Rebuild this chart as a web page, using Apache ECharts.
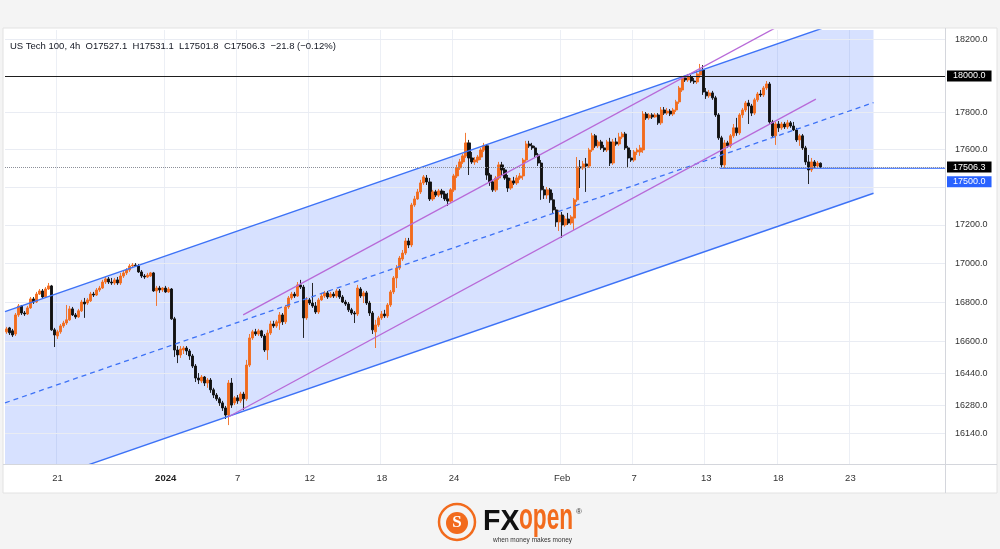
<!DOCTYPE html>
<html><head><meta charset="utf-8">
<script src="https://cdn.jsdelivr.net/npm/echarts@6/dist/echarts.min.js"></script>
<style>html,body{margin:0;padding:0;background:#f4f4f4;}#c{width:1000px;height:549px;}</style>
</head><body><div id="c"></div>
<script>
// ---------- DATA ----------
const symbolName = 'US Tech 100, 4h';
const legendOHLC = [['O', 17527.1], ['H', 17531.1], ['L', 17501.8], ['C', 17506.3]];
const legendChange = [-21.8, -0.12];
const lastPrice = 17506.3;
const keyLevel = 18000;
const supportLevel = 17500;

// candles: [open, close, low, high]
const candles = [
[16648,16663,16638,16673],[16668,16643,16632,16673],[16653,16632,16622,16663],[16637,16734,16627,16744],[16734,16780,16724,16790],
[16780,16744,16734,16785],[16744,16739,16729,16754],[16739,16770,16734,16780],[16770,16816,16765,16826],[16816,16800,16790,16826],
[16800,16841,16795,16852],[16841,16857,16836,16867],[16857,16826,16821,16867],[16826,16867,16821,16877],[16867,16883,16862,16898],
[16883,16658,16653,16888],[16658,16632,16571,16668],[16627,16648,16612,16658],[16648,16678,16638,16688],[16678,16693,16668,16704],
[16693,16709,16683,16785],[16709,16765,16704,16780],[16765,16734,16729,16775],[16734,16724,16714,16744],[16724,16755,16719,16765],
[16755,16800,16749,16811],[16800,16790,16719,16821],[16795,16811,16785,16821],[16806,16841,16800,16852],[16841,16836,16826,16852],
[16836,16862,16831,16872],[16862,16872,16852,16883],[16872,16903,16867,16914],[16903,16919,16893,16929],[16919,16903,16893,16929],
[16903,16898,16888,16924],[16898,16914,16888,16924],[16914,16898,16888,16929],[16898,16934,16888,16950],[16934,16950,16924,16960],
[16950,16965,16939,16975],[16965,16986,16955,16996],[16986,16991,16975,17001],[16991,16986,16981,17001],[16986,16955,16950,16996],
[16955,16934,16924,16965],[16934,16929,16919,16944],[16929,16939,16924,16950],[16934,16950,16929,16955],[16950,16857,16852,16955],
[16857,16872,16780,16883],[16872,16862,16847,16883],[16862,16872,16852,16877],[16872,16852,16847,16883],[16852,16867,16847,16877],
[16867,16714,16709,16872],[16714,16556,16521,16724],[16556,16531,16490,16576],[16531,16561,16516,16576],[16556,16566,16536,16576],
[16566,16551,16531,16576],[16551,16526,16506,16561],[16526,16475,16465,16536],[16475,16415,16395,16485],[16415,16405,16385,16440],
[16400,16420,16390,16430],[16420,16390,16375,16425],[16390,16405,16366,16415],[16405,16356,16341,16415],[16356,16330,16315,16366],
[16330,16311,16301,16340],[16311,16291,16276,16320],[16291,16266,16251,16301],[16266,16231,16211,16276],[16231,16390,16181,16405],
[16390,16280,16266,16415],[16291,16316,16280,16325],[16316,16301,16286,16330],[16301,16335,16291,16346],[16335,16311,16256,16346],
[16311,16480,16301,16506],[16480,16617,16470,16637],[16617,16648,16607,16658],[16648,16637,16627,16663],[16637,16653,16627,16663],
[16653,16627,16617,16658],[16627,16556,16546,16637],[16556,16642,16506,16658],[16642,16688,16632,16704],[16688,16678,16668,16704],
[16678,16699,16668,16709],[16693,16734,16658,16749],[16734,16699,16683,16744],[16699,16775,16688,16785],[16775,16821,16765,16831],
[16821,16841,16811,16852],[16841,16831,16821,16852],[16831,16888,16826,16903],[16888,16877,16867,16914],[16877,16719,16617,16888],
[16719,16811,16709,16826],[16811,16795,16785,16821],[16795,16780,16770,16898],[16780,16749,16739,16800],[16749,16811,16739,16821],
[16811,16831,16806,16847],[16831,16847,16821,16857],[16847,16826,16816,16857],[16826,16841,16821,16852],[16841,16831,16821,16852],
[16831,16857,16821,16867],[16857,16826,16816,16867],[16826,16800,16795,16836],[16800,16790,16780,16811],[16790,16760,16749,16800],
[16760,16744,16734,16770],[16744,16739,16693,16754],[16739,16872,16729,16888],[16867,16831,16821,16877],[16831,16847,16795,16857],
[16847,16795,16785,16857],[16795,16744,16729,16806],[16744,16658,16637,16754],[16648,16683,16566,16709],[16683,16719,16673,16729],
[16719,16739,16709,16754],[16739,16729,16719,16760],[16729,16785,16719,16795],[16785,16852,16775,16862],[16852,16924,16841,16934],
[16924,16975,16872,16991],[16975,17027,16965,17038],[17022,17053,17012,17069],[17053,17116,17043,17132],[17116,17095,17079,17132],
[17095,17305,17084,17316],[17305,17337,17295,17353],[17337,17374,17332,17390],[17374,17422,17363,17438],[17422,17454,17411,17464],
[17448,17427,17411,17464],[17427,17337,17326,17448],[17337,17374,17326,17385],[17374,17358,17347,17385],[17358,17379,17347,17390],
[17379,17363,17342,17390],[17363,17337,17326,17379],[17337,17326,17300,17369],[17326,17385,17316,17395],[17385,17459,17374,17470],
[17459,17502,17448,17518],[17502,17534,17491,17550],[17534,17566,17523,17576],[17566,17636,17555,17690],[17636,17555,17464,17652],
[17555,17534,17523,17587],[17534,17544,17518,17560],[17544,17560,17528,17571],[17560,17598,17544,17609],[17598,17620,17587,17636],
[17620,17464,17438,17630],[17464,17427,17406,17475],[17427,17385,17374,17438],[17385,17448,17374,17459],[17448,17518,17438,17534],
[17518,17491,17464,17534],[17491,17448,17438,17502],[17448,17395,17374,17464],[17395,17432,17385,17448],[17432,17422,17411,17454],
[17422,17448,17411,17464],[17448,17459,17438,17475],[17459,17544,17438,17555],[17544,17630,17534,17647],[17630,17620,17609,17647],
[17620,17609,17598,17636],[17609,17571,17560,17620],[17571,17528,17512,17582],[17528,17385,17332,17544],[17385,17358,17337,17406],
[17358,17385,17337,17400],[17385,17332,17316,17395],[17332,17279,17263,17369],[17279,17216,17190,17295],[17216,17252,17168,17279],
[17252,17200,17132,17268],[17200,17231,17190,17247],[17231,17210,17200,17263],[17210,17242,17200,17252],[17236,17332,17174,17342],
[17332,17507,17321,17560],[17507,17502,17395,17544],[17502,17523,17491,17539],[17523,17512,17374,17555],[17512,17598,17502,17609],
[17598,17674,17587,17690],[17674,17620,17609,17684],[17620,17641,17609,17652],[17641,17609,17598,17652],[17609,17598,17587,17625],
[17598,17641,17587,17652],[17641,17528,17512,17663],[17528,17641,17518,17657],[17641,17630,17620,17663],[17630,17668,17620,17690],
[17668,17684,17657,17695],[17684,17609,17598,17695],[17609,17555,17502,17620],[17555,17544,17534,17598],[17544,17587,17534,17598],
[17587,17598,17571,17609],[17587,17609,17566,17625],[17598,17792,17582,17808],[17792,17771,17760,17803],[17771,17787,17760,17797],
[17787,17776,17765,17797],[17776,17787,17771,17797],[17787,17744,17733,17797],[17744,17814,17733,17830],[17814,17797,17787,17830],
[17797,17808,17787,17825],[17808,17792,17781,17819],[17792,17814,17781,17825],[17814,17858,17803,17869],[17858,17934,17847,17945],
[17923,17989,17912,18000],[17989,17978,17967,18000],[17978,17995,17967,18011],[17995,17972,17962,18005],[17972,17967,17956,17989],
[17967,18011,17956,18027],[18005,18033,17989,18066],[18033,17912,17896,18060],[17912,17891,17874,17934],[17891,17907,17880,17923],
[17907,17880,17869,17918],[17880,17787,17776,17891],[17787,17663,17652,17797],[17663,17518,17502,17674],[17518,17636,17502,17652],
[17636,17620,17609,17647],[17620,17674,17609,17684],[17674,17717,17663,17738],[17717,17690,17674,17771],[17690,17787,17679,17797],
[17787,17814,17771,17825],[17814,17852,17803,17863],[17852,17836,17738,17869],[17836,17797,17781,17847],[17797,17869,17787,17880],
[17869,17901,17858,17912],[17901,17896,17885,17923],[17896,17934,17885,17945],[17934,17956,17923,17972],[17956,17749,17738,17967],
[17749,17674,17663,17760],[17674,17738,17625,17749],[17738,17717,17695,17754],[17717,17738,17706,17749],[17738,17722,17711,17749],
[17722,17744,17711,17760],[17744,17727,17717,17754],[17727,17706,17700,17749],[17706,17652,17641,17717],[17652,17674,17620,17684],
[17674,17609,17598,17684],[17609,17534,17518,17620],[17534,17491,17416,17571],[17491,17534,17480,17555],[17534,17512,17502,17544],
[17512,17528,17502,17539],[17527.1,17506.3,17501.8,17531.1]
];

// number of bar slots on the time axis (incl. empty future space)
const barSlots = 313;
// x tick labels: [bar slot, text]
const xTickLabels = [[17,'21'],[53,'2024'],[77,'7'],[101,'12'],[125,'18'],[149,'24'],[185,'Feb'],[209,'7'],[233,'13'],[257,'18'],[281,'23']];
// y grid levels and the labelled ones
const yGridLevels = [18200,18000,17800,17600,17400,17200,17000,16800,16600,16440,16280,16140];
const yTickLabels = [18200,17800,17600,17200,17000,16800,16600,16440,16280,16140];

// drawings: [bar position, price]
const channelUpper = [[-0.5,16751],[288.7,18363]];
const channelMid   = [[-0.5,16291],[288.7,17854]];
const channelLower = [[-0.5,15846],[288.7,17367]];
const trendUpper   = [[78.8,16734],[269.5,18388]];
const trendLower   = [[73.8,16221],[269.5,17873]];
const supportLine  = [[237.5,17500],[312.5,17500]];

// ---------- CHART ----------
const FONT = '"Liberation Sans", Arial, sans-serif';
const UP = '#f26b1d', DOWN = '#111111';
const BLUE = '#3d72f6', PURPLE = '#b86ad8';
const chart = echarts.init(document.getElementById('c'), null, {renderer: 'canvas'});
const categories = Array.from({length: barSlots}, (_, i) => 'b' + i);
const tickMap = new Map(xTickLabels);
const fmtNum = v => (v < 0 ? '\u2212' : '') + Math.abs(v).toFixed(Math.abs(v) < 1 ? 2 : 1);
const legendText = symbolName + '  ' + legendOHLC.map(([k, v]) => k + v.toFixed(1)).join('  ') +
  '  ' + fmtNum(legendChange[0]) + ' (' + fmtNum(legendChange[1]) + '%)';
const channelFill = [channelUpper[0], channelUpper[1], channelLower[1], channelLower[0]];

function lineSeries(data, color, type, width) {
  return {type: 'line', xAxisIndex: 1, yAxisIndex: 0, data: data, symbol: 'none', silent: true, z: 4,
    clip: true, lineStyle: {color: color, width: width, type: type}};
}
const boxLabel = (bg, text, spacer) => ({
  show: true, position: 'end', distance: 2,
  formatter: spacer ? '{s|}\n{b|' + text + '}' : '{b|' + text + '}',
  rich: {
    b: {backgroundColor: bg, color: '#fff', fontSize: 9, lineHeight: 11, padding: [1, 6, 1, 6], fontFamily: FONT},
    s: {height: spacer || 0, lineHeight: spacer || 0, fontSize: 1}
  }
});

const option = {
  animation: false,
  backgroundColor: '#f4f4f4',
  title: {text: legendText, left: 10, top: 41, padding: 0,
    textStyle: {fontSize: 9.5, fontWeight: 'normal', color: '#131722', fontFamily: FONT}},
  grid: {left: 5, right: 55, top: 30, bottom: 85},
  xAxis: [
    {type: 'category', data: categories, boundaryGap: true,
      axisLine: {show: false}, axisTick: {show: false},
      axisLabel: {interval: (i) => tickMap.has(i), margin: 9, fontSize: 9.5, color: '#333', fontFamily: FONT,
        formatter: (v, i) => { const t = tickMap.get(i); return t === '2024' ? '{b|' + t + '}' : t; },
        rich: {b: {fontWeight: 'bold', fontSize: 9.5, color: '#222', fontFamily: FONT}}},
      splitLine: {show: true, interval: (i) => tickMap.has(i), lineStyle: {color: '#eceff5', width: 1}}},
    {type: 'value', min: -0.5, max: barSlots - 0.5, show: false}
  ],
  yAxis: {type: 'log', logBase: 10, min: 15990, max: 18254, position: 'right', scale: true,
    axisLine: {show: false}, axisTick: {show: false}, axisLabel: {show: false}, splitLine: {show: false}},
  series: [
    {type: 'custom', xAxisIndex: 1, yAxisIndex: 0, z: 1, silent: true, clip: true,
      data: [[0, 17000]],
      renderItem: function (params, api) {
        const cs = params.coordSys;
        return {type: 'polygon', shape: {points: channelFill.map(p => api.coord(p))},
          style: {fill: 'rgba(41,98,255,0.19)'},
          clipPath: {type: 'rect', shape: {x: cs.x, y: cs.y, width: cs.width, height: cs.height}}};
      }},
    {type: 'candlestick', xAxisIndex: 0, yAxisIndex: 0, data: candles, barWidth: 2.6, z: 3, silent: true,
      itemStyle: {color: UP, color0: DOWN, borderColor: UP, borderColor0: DOWN, borderWidth: 0.9},
      markLine: {silent: true, symbol: ['none', 'none'], z: 1.5, animation: false,
        data: yGridLevels.map(v => ({yAxis: v,
          lineStyle: {color: '#e9ecf3', width: 1, type: 'solid'},
          label: yTickLabels.includes(v)
            ? {show: true, position: 'end', distance: 10, formatter: v.toFixed(1), color: '#333', fontSize: 9, fontFamily: FONT}
            : {show: false}}))}},
    lineSeries(channelUpper, BLUE, 'solid', 1.4),
    lineSeries(channelMid, BLUE, [5, 4], 1.3),
    lineSeries(channelLower, BLUE, 'solid', 1.4),
    lineSeries(trendUpper, PURPLE, 'solid', 1.3),
    lineSeries(trendLower, PURPLE, 'solid', 1.3),
    Object.assign(lineSeries(supportLine, '#2962ff', 'solid', 1.2), {
      markLine: {silent: true, symbol: ['none', 'none'], z: 6, animation: false,
        data: [
          {yAxis: keyLevel, lineStyle: {color: '#1e1e1e', width: 1.2, type: 'solid'}, label: boxLabel('#000', keyLevel.toFixed(1))},
          {yAxis: lastPrice, lineStyle: {color: '#8c8f98', width: 1, type: [1, 1]}, label: boxLabel('#000', lastPrice.toFixed(1))},
          {yAxis: supportLevel, lineStyle: {color: 'rgba(0,0,0,0)', width: 0}, label: boxLabel('#2962ff', supportLevel.toFixed(1), 27)}
        ]}})
  ],
  graphic: [
    {type: 'rect', z: -100, silent: true, shape: {x: 3, y: 28, width: 994, height: 465},
      style: {fill: '#ffffff', stroke: '#e2e2e2', lineWidth: 1}},
    {type: 'line', z: 100, silent: true, shape: {x1: 945.5, y1: 28, x2: 945.5, y2: 493}, style: {stroke: '#d4d6dc', lineWidth: 1}},
    {type: 'line', z: 100, silent: true, shape: {x1: 3, y1: 464.5, x2: 997, y2: 464.5}, style: {stroke: '#d4d6dc', lineWidth: 1}},
    {type: 'group', z: 100, silent: true, children: [
      {type: 'circle', shape: {cx: 457, cy: 522, r: 18}, style: {fill: 'none', stroke: UP, lineWidth: 2.5}},
      {type: 'circle', shape: {cx: 457, cy: 523, r: 11}, style: {fill: UP}},
      {type: 'text', style: {text: 'S', x: 457, y: 523, fill: '#fff', font: 'bold 17px "Liberation Serif"', align: 'center', verticalAlign: 'middle'}},
      {type: 'text', x: 483, y: 522, scaleX: 0.95, style: {text: 'FX', x: 0, y: 0, fill: '#111', font: 'bold 30px ' + FONT, verticalAlign: 'middle'}},
      {type: 'text', x: 519, y: 519, scaleX: 0.63, style: {text: 'open', x: 0, y: 0, fill: UP, font: 'bold 36px ' + FONT, verticalAlign: 'middle'}},
      {type: 'text', style: {text: '\u00ae', x: 576, y: 512, fill: '#333', font: '8px ' + FONT, verticalAlign: 'middle'}},
      {type: 'text', style: {text: 'when money makes money', x: 493, y: 540, fill: '#333', font: '6.5px ' + FONT, verticalAlign: 'middle'}}
    ]}
  ]
};
chart.setOption(option);
</script>
</body></html>
